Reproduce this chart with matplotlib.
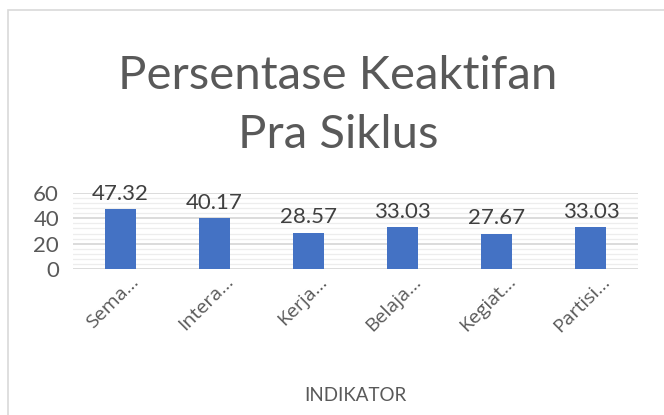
import matplotlib
matplotlib.use("Agg")
import matplotlib.pyplot as plt
from matplotlib.patches import Rectangle
from matplotlib.ticker import MultipleLocator
from matplotlib.transforms import ScaledTranslation

categories = ["Sema...", "Intera...", "Kerja...", "Belaja...", "Kegiat...", "Partisi..."]
values = [47.32, 40.17, 28.57, 33.03, 27.67, 33.03]
value_labels = ["47.32", "40.17", "28.57", "33.03", "27.67", "33.03"]
yticks = [0, 20, 40, 60]
title_lines = ["Persentase Keaktifan", "Pra Siklus"]

plt.rcParams['font.family'] = ['Lato', 'DejaVu Sans']
txt = "#595959"

fig = plt.figure(figsize=(6.64, 4.15), dpi=100)
fig.patches.append(Rectangle((8/664, -0.1), 1.0, 1 - 10/415 + 0.1, transform=fig.transFigure,
                             fill=False, edgecolor="#d9d9d9", linewidth=1.2))

ax = fig.add_axes([73/664, 1 - 269/415, (638-73)/664, (269-193)/415])
x = range(len(categories))
ax.bar(x, values, width=0.33, color="#4472c4", zorder=3)
ax.set_xlim(-0.5, len(categories) - 0.5)
ax.set_ylim(0, 60)
ax.set_yticks(yticks)
ax.yaxis.set_minor_locator(MultipleLocator(4))
ax.grid(axis='y', which='major', color="#d9d9d9", linewidth=1.3, zorder=0)
ax.grid(axis='y', which='minor', color="#ededed", linewidth=0.9, zorder=0)
for s in ax.spines.values():
    s.set_visible(False)
ax.tick_params(axis='both', which='both', length=0)
ax.tick_params(axis='y', labelsize=16, labelcolor=txt, pad=10)
ax.set_xticks(list(x))
ax.set_xticklabels(categories, rotation=45, ha='right', va='center', rotation_mode='anchor',
                   fontsize=14, color=txt, family=['Open Sans', 'DejaVu Sans'])
ax.tick_params(axis='x', pad=7)
shift = ScaledTranslation(16/100, 0, fig.dpi_scale_trans)
for lbl in ax.get_xticklabels():
    lbl.set_transform(lbl.get_transform() + shift)
for xi, v, lab in zip(x, values, value_labels):
    ax.annotate(lab, (xi, v), xytext=(0, 4), textcoords='offset points',
                ha='center', va='bottom', fontsize=16, color="#404040")

ax.set_xlabel("INDIKATOR", fontsize=13.5, color=txt, labelpad=37)
for line, base in zip(title_lines, [89, 148]):
    fig.text(338/664, 1 - base/415, line, ha='center', va='baseline',
             fontsize=34, color=txt)

fig.savefig("out.png", dpi=100)
